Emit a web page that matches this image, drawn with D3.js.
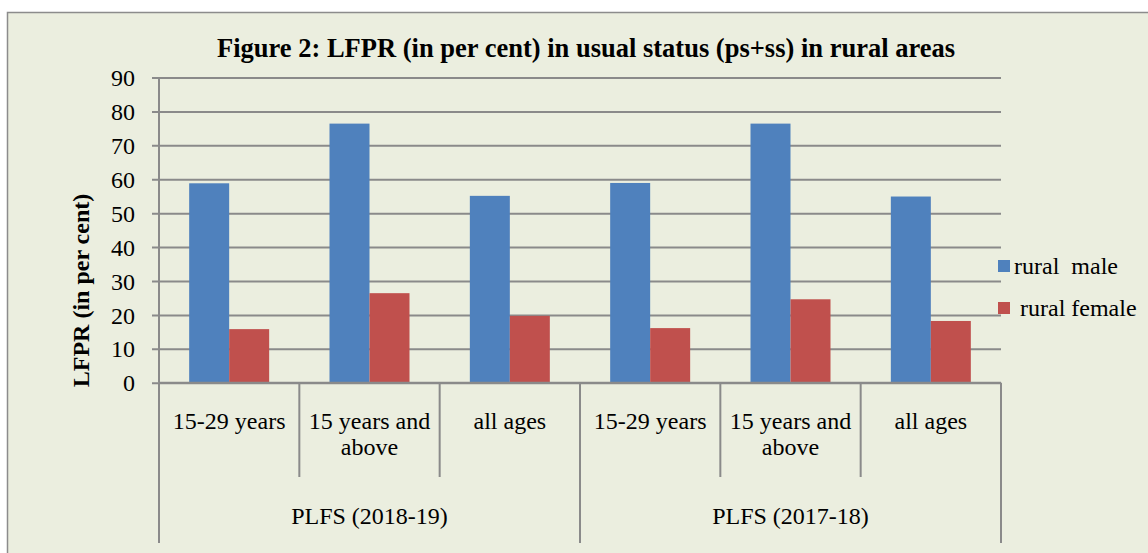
<!DOCTYPE html>
<html>
<head>
<meta charset="utf-8">
<script src="https://cdn.jsdelivr.net/npm/d3@7"></script>
<style>
  html, body { margin: 0; padding: 0; background: #ffffff; }
  svg { display: block; font-family: "Liberation Serif", "Times New Roman", serif; }
</style>
</head>
<body>
<script>
'use strict';

// chart data
const surveys = ["PLFS (2018-19)", "PLFS (2017-18)"];
const ageGroups = [["15-29 years"], ["15 years and", "above"], ["all ages"]];
const seriesNames = ["rural  male", " rural female"];
const ruralMale = [58.8, 76.4, 55.1, 58.9, 76.4, 54.9];
const ruralFemale = [15.8, 26.4, 19.7, 16.1, 24.6, 18.2];
const yTicks = [0, 10, 20, 30, 40, 50, 60, 70, 80, 90];
const colors = ["#4f81bd", "#c0504d"];

(function() {
  const width = 1148, height = 553;
  const plot = {left: 159, right: 1001, top: 77.5, bottom: 382.7};

  let svg = d3.select('body').append('svg')
    .attr('width', width)
    .attr('height', height);

  // outer chart area
  svg.append('rect')
    .attr('x', 7.5).attr('y', 12.5)
    .attr('width', 1150).attr('height', 560)
    .attr('fill', '#ebeedf')
    .attr('stroke', '#8c8c8c')
    .attr('stroke-width', 1.5);

  // categories: survey x age group
  let cats = [];
  surveys.forEach((s, i) => ageGroups.forEach((a, j) => cats.push({survey: i, age: j, key: i + '-' + j})));

  let xScale = d3.scaleBand()
    .domain(cats.map((d) => d.key))
    .range([plot.left, plot.right])
    .paddingInner(0.43)
    .paddingOuter(0.215);

  let xSub = d3.scaleBand()
    .domain([0, 1])
    .range([0, xScale.bandwidth()]);

  let yScale = d3.scaleLinear()
    .domain([0, 90])
    .range([plot.bottom, plot.top]);

  // gridlines + y axis
  let yAxis = d3.axisLeft(yScale)
    .tickValues(yTicks)
    .tickSize(plot.right - plot.left + 7)
    .tickFormat(d3.format('d'));
  let gy = svg.append('g')
    .attr('transform', 'translate(' + plot.right + ', 0)')
    .call(yAxis);
  gy.select('.domain').remove();
  gy.selectAll('line')
    .attr('stroke', '#8a8a8a')
    .attr('stroke-width', 2);
  gy.selectAll('text')
    .attr('x', -(plot.right - plot.left) - 24)
    .attr('dy', '0.34em')
    .attr('fill', '#000')
    .style('font-family', '"Liberation Serif", serif')
    .style('font-size', '24px');

  // bars
  let step = xScale.step();
  let values = [ruralMale, ruralFemale];
  values.forEach((vals, s) => {
    svg.append('g').selectAll('rect')
      .data(cats)
      .enter()
      .append('rect')
      .attr('x', (d) => xScale(d.key) + xSub(s))
      .attr('y', (d, i) => yScale(vals[i]))
      .attr('width', xSub.bandwidth())
      .attr('height', (d, i) => plot.bottom - yScale(vals[i]))
      .attr('fill', colors[s]);
  });

  // y axis line and x axis line
  svg.append('line')
    .attr('x1', plot.left).attr('x2', plot.left)
    .attr('y1', plot.top).attr('y2', plot.bottom)
    .attr('stroke', '#8a8a8a').attr('stroke-width', 2);
  svg.append('line')
    .attr('x1', plot.left).attr('x2', plot.right)
    .attr('y1', plot.bottom).attr('y2', plot.bottom)
    .attr('stroke', '#8a8a8a').attr('stroke-width', 2);

  // category separators
  let boundaries = d3.range(cats.length + 1).map((i) => plot.left + i * step);
  svg.append('g').selectAll('line')
    .data(boundaries)
    .enter()
    .append('line')
    .attr('x1', (d) => d).attr('x2', (d) => d)
    .attr('y1', plot.bottom)
    .attr('y2', (d, i) => (i % ageGroups.length == 0) ? 543 : 477)
    .attr('stroke', '#8a8a8a').attr('stroke-width', 2);

  // category labels
  let catLabels = svg.append('g')
    .style('font-size', '24px')
    .attr('text-anchor', 'middle');
  cats.forEach((d) => {
    let cx = xScale(d.key) + xScale.bandwidth() / 2;
    let lines = ageGroups[d.age];
    let t = catLabels.append('text').attr('x', cx).attr('y', 429);
    lines.forEach((l, k) => {
      t.append('tspan').attr('x', cx).attr('dy', k == 0 ? 0 : 26).text(l);
    });
  });
  surveys.forEach((s, i) => {
    catLabels.append('text')
      .attr('x', plot.left + step * ageGroups.length * (i + 0.5))
      .attr('y', 524)
      .text(s);
  });

  // title
  svg.append('text')
    .attr('x', 586)
    .attr('y', 57)
    .attr('text-anchor', 'middle')
    .style('font-size', '26.5px')
    .style('font-weight', 'bold')
    .text('Figure 2: LFPR (in per cent) in usual status (ps+ss) in rural areas');

  // y axis title
  svg.append('text')
    .attr('transform', 'translate(89, 290.5)rotate(-90)')
    .attr('text-anchor', 'middle')
    .style('font-size', '24px')
    .style('font-weight', 'bold')
    .text('LFPR (in per cent)');

  // legend
  let legend = svg.append('g');
  seriesNames.forEach((name, i) => {
    legend.append('rect')
      .attr('x', 998).attr('y', 260 + i * 42)
      .attr('width', 12).attr('height', 12)
      .attr('fill', colors[i]);
    legend.append('text')
      .attr('x', 1014).attr('y', 274 + i * 42)
      .style('font-size', '24px')
      .style('white-space', 'pre')
      .attr('xml:space', 'preserve')
      .text(name);
  });
})();
</script>
</body>
</html>
